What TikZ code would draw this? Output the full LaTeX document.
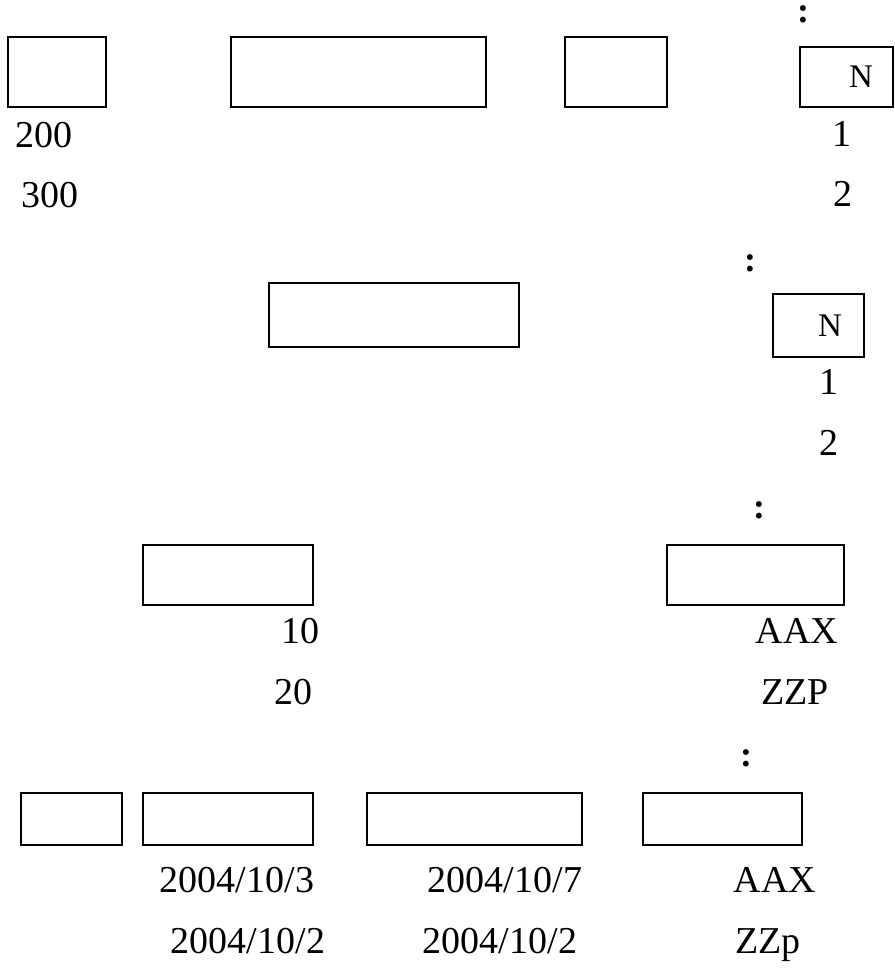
\documentclass[tikz,border=0pt]{standalone}
\usepackage{fontspec}
\setmainfont{Liberation Serif}
\begin{document}
\begin{tikzpicture}[x=1pt,y=-1pt,
  box/.style={draw,line width=1.7pt,inner sep=0pt},
  txt/.style={inner sep=0pt,anchor=base,font=\fontsize{38}{40}\selectfont},
  small/.style={inner sep=0pt,anchor=base,font=\fontsize{33}{35}\selectfont},
  dots/.style={txt,font=\fontsize{36}{40}\selectfont\bfseries}]
  \useasboundingbox (0,0) rectangle (894,968);
  % first row
  \node[dots] (dotsA) at (803,23) {:};
  \node[box,minimum width=98pt,minimum height=70pt] (a1) at (57,72) {};
  \node[box,minimum width=255pt,minimum height=70pt] (a2) at (358.5,72) {};
  \node[box,minimum width=102pt,minimum height=70pt] (a3) at (616,72) {};
  \node[box,minimum width=93pt,minimum height=60pt] (a4) at (846.5,77) {};
  \node[small] (nA) at (861,88) {N};
  \node[txt] (a1x) at (44.5,148) {200};
  \node[txt] (a1y) at (50,208) {300};
  \node[txt] (a4x) at (842,147) {1};
  \node[txt] (a4y) at (843,207) {2};
  % second row
  \node[dots] (dotsB) at (750,271) {:};
  \node[box,minimum width=250pt,minimum height=64pt] (b1) at (394,315) {};
  \node[box,minimum width=91pt,minimum height=63pt] (b2) at (818.5,325.5) {};
  \node[small] (nB) at (830,336) {N};
  \node[txt] (b2x) at (829,394) {1};
  \node[txt] (b2y) at (829,455) {2};
  % third row
  \node[dots] (dotsC) at (759,518) {:};
  \node[box,minimum width=170pt,minimum height=60pt] (c1) at (228,575) {};
  \node[box,minimum width=177pt,minimum height=60pt] (c2) at (755.5,575) {};
  \node[txt] (c1x) at (300,643) {10};
  \node[txt] (c1y) at (293,704) {20};
  \node[txt] (c2x) at (797,643) {AAX};
  \node[txt] (c2y) at (795,704) {ZZP};
  % fourth row
  \node[dots] (dotsD) at (746,766) {:};
  \node[box,minimum width=101pt,minimum height=52pt] (d1) at (71.5,819) {};
  \node[box,minimum width=170pt,minimum height=52pt] (d2) at (228,819) {};
  \node[box,minimum width=215pt,minimum height=52pt] (d3) at (474.5,819) {};
  \node[box,minimum width=159pt,minimum height=52pt] (d4) at (722.5,819) {};
  \node[txt] (d2x) at (237,892) {2004/10/3};
  \node[txt] (d2y) at (248,953) {2004/10/2};
  \node[txt] (d3x) at (505,892) {2004/10/7};
  \node[txt] (d3y) at (500,953) {2004/10/2};
  \node[txt] (d4x) at (775,892) {AAX};
  \node[txt] (d4y) at (768,953) {ZZp};
\end{tikzpicture}
\end{document}
